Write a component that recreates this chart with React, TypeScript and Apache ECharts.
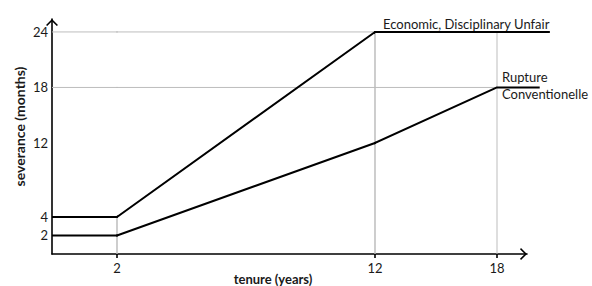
import React, { useEffect, useRef } from 'react';
import * as echarts from 'echarts';

// ---- data ----
const economicName = 'Economic, Disciplinary Unfair';
const economicTenure = [0, 2, 12, 20.6];
const economicSeverance = [4, 4, 24, 24];

const ruptureName = 'Rupture\nConventionelle';
const ruptureTenure = [0, 2, 18, 20.1];
const ruptureSeverance = [2, 2, 18, 18];

const xTickValues = [2, 12, 18];
const yTickValues = [2, 4, 12, 18, 24];

// grey drop lines
const guideVerticalX = [2, 12, 18];
const guideVerticalTop = [4, 24, 24];
const guideHorizontalY = [24, 18];
const guideHorizontalEnd = [12, 18];

// ---- layout: the schematic's tenure axis is not to scale, so it is drawn in linear pieces ----
const TOP = 19;
const BOTTOM = 32;
const Y_MAX = 25.4;
const SEG3_PX_PER_YEAR = 122 / 6;
const segments = [
  { left: 52, width: 65, min: 0, max: 2 },
  { left: 117, width: 258, min: 2, max: 12 },
  { left: 375, width: 185, min: 12, max: 12 + 185 / SEG3_PX_PER_YEAR },
];
const axisEnd = { left: 375, width: 152, min: 12, max: 12 + 152 / SEG3_PX_PER_YEAR };

const FONT = 'Lato';
const TEXT = '#1a1a1a';
const CHEVRON = 'path://M0,6 L6,0 L12,6 L10.8,7 L6,2.2 L1.2,7 Z';

const zip = (xs: number[], ys: number[]) => xs.map((x, i) => [x, ys[i]]);

export default function App() {
  const ref = useRef<HTMLDivElement>(null);
  useEffect(() => {
    if (!ref.current) return;
    const chart = echarts.init(ref.current, null, { renderer: 'svg' });

    const grids = [...segments, axisEnd].map((s) => ({
      left: s.left,
      width: s.width,
      top: TOP,
      bottom: BOTTOM,
      containLabel: false,
      outerBoundsMode: 'none',
    }));

    const lines = [
      {
        data: zip(economicTenure, economicSeverance),
        labelIndex: 2,
        label: {
          show: true,
          formatter: economicName,
          position: 'top',
          align: 'left',
          distance: 1,
          offset: [8, 0],
          fontFamily: FONT,
          fontSize: 13,
          color: TEXT,
        },
      },
      {
        data: zip(ruptureTenure, ruptureSeverance),
        labelIndex: 2,
        label: {
          show: true,
          formatter: ruptureName,
          position: 'right',
          align: 'left',
          distance: 5,
          offset: [0, -2],
          lineHeight: 17,
          fontFamily: FONT,
          fontSize: 13,
          color: TEXT,
        },
      },
    ];

    const guides: number[][][] = [
      ...guideVerticalX.map((x, i) => [
        [x, 0],
        [x, guideVerticalTop[i]],
      ]),
      ...guideHorizontalY.map((y, i) => [
        [0, y],
        [guideHorizontalEnd[i], y],
      ]),
    ];

    const series: any[] = [];
    segments.forEach((_, si) => {
      guides.forEach((g) => {
        series.push({
          type: 'line',
          xAxisIndex: si,
          yAxisIndex: si,
          data: g,
          clip: true,
          showSymbol: false,
          silent: true,
          z: 1,
          lineStyle: { color: '#bdbdbd', width: 1 },
        });
      });
      lines.forEach((l) => {
        series.push({
          type: 'line',
          xAxisIndex: si,
          yAxisIndex: si,
          data: l.data.map((p, pi) =>
            si === 2 && pi === l.labelIndex ? { value: p, label: l.label } : { value: p }
          ),
          clip: true,
          showSymbol: true,
          symbolSize: 0,
          silent: true,
          z: 3,
          label: { show: false },
          lineStyle: { color: '#000', width: 2 },
        });
      });
    });

    const labelStyle = { fontFamily: FONT, fontSize: 13, color: TEXT };
    const axisLineBase = { show: true, onZero: false, lineStyle: { color: '#000', width: 1.6 } };

    const xAxis: any[] = [
      {
        gridIndex: 0,
        type: 'value',
        min: segments[0].min,
        max: segments[0].max,
        axisLine: axisLineBase,
        axisTick: { show: false },
        axisLabel: { show: false },
        splitLine: { show: false },
      },
      {
        gridIndex: 1,
        type: 'value',
        min: segments[1].min,
        max: segments[1].max,
        axisLine: axisLineBase,
        axisTick: { show: true, customValues: [xTickValues[0]], length: 4, lineStyle: { color: '#000', width: 1.6 } },
        axisLabel: { show: true, customValues: [xTickValues[0]], margin: 7, ...labelStyle },
        splitLine: { show: false },
        name: 'tenure (years)',
        nameLocation: 'middle',
        nameGap: 18,
        nameMoveOverlap: false,
        nameTextStyle: {
          fontFamily: FONT,
          fontSize: 13,
          lineHeight: 13,
          fontWeight: 'bold',
          color: TEXT,
          padding: [0, 0, 0, 54],
        },
      },
      {
        gridIndex: 2,
        type: 'value',
        min: segments[2].min,
        max: segments[2].max,
        show: false,
      },
      {
        gridIndex: 3,
        type: 'value',
        min: axisEnd.min,
        max: axisEnd.max,
        axisLine: {
          ...axisLineBase,
          symbol: ['none', CHEVRON],
          symbolSize: [12, 7],
          symbolOffset: [0, -3.5],
        },
        axisTick: { show: true, customValues: xTickValues.slice(1), length: 4, lineStyle: { color: '#000', width: 1.6 } },
        axisLabel: { show: true, customValues: xTickValues.slice(1), margin: 7, ...labelStyle },
        splitLine: { show: false },
      },
    ];

    const yAxis: any[] = [0, 1, 2, 3].map((gi) =>
      gi === 0
        ? {
            gridIndex: 0,
            type: 'value',
            min: 0,
            max: Y_MAX,
            position: 'left',
            axisLine: {
              ...axisLineBase,
              symbol: ['none', CHEVRON],
              symbolSize: [12, 7],
              symbolOffset: [0, -3.5],
            },
            axisTick: { show: false },
            axisLabel: { show: true, customValues: yTickValues, margin: 4, ...labelStyle },
            splitLine: { show: false },
            name: 'severance (months)',
            nameLocation: 'middle',
            nameGap: 26,
            nameMoveOverlap: false,
            nameRotate: 90,
            nameTextStyle: {
              fontFamily: FONT,
              fontSize: 14,
              fontWeight: 'bold',
              color: TEXT,
              padding: [0, 0, 0, 20],
            },
          }
        : { gridIndex: gi, type: 'value', min: 0, max: Y_MAX, show: false }
    );

    chart.setOption({
      animation: false,
      backgroundColor: '#fff',
      grid: grids,
      xAxis,
      yAxis,
      series,
    });
    return () => chart.dispose();
  }, []);

  return (
    <div
      ref={ref}
      style={{ position: 'absolute', left: 0, top: 0, width: 592, height: 286, background: '#fff' }}
    />
  );
}
